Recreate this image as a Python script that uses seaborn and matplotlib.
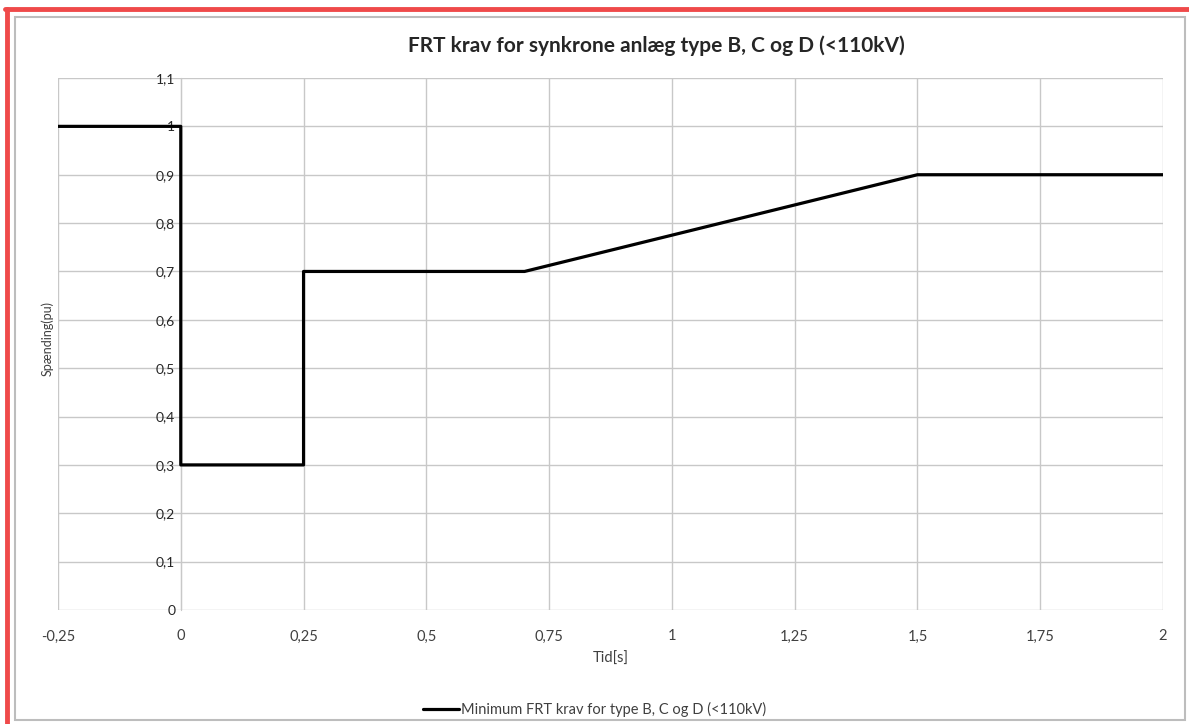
import matplotlib.pyplot as plt
import pandas as pd
import seaborn as sns
from matplotlib.lines import Line2D
from matplotlib.patches import Rectangle

# --- data ---
tid = [-0.25, 0, 0, 0.25, 0.25, 0.7, 1.5, 2]
spaending = [1.0, 1.0, 0.3, 0.3, 0.7, 0.7, 0.9, 0.9]
x_ticks = [-0.25, 0, 0.25, 0.5, 0.75, 1, 1.25, 1.5, 1.75, 2]
y_ticks = [0, 0.1, 0.2, 0.3, 0.4, 0.5, 0.6, 0.7, 0.8, 0.9, 1.0, 1.1]
serie = 'Minimum FRT krav for type B, C og D (<110kV)'

df = pd.DataFrame({'Tid': tid, 'U': spaending, 'Serie': serie})

sns.set_style('white')
plt.rcParams['font.family'] = ['Lato', 'DejaVu Sans']

fig = plt.figure(figsize=(11.89, 7.24), dpi=100)
fig.patch.set_facecolor('white')
ax = fig.add_axes([58 / 1189, 114 / 724, 1105 / 1189, 532 / 724])

sns.lineplot(data=df, x='Tid', y='U', hue='Serie', palette=['black'],
             estimator=None, sort=False, linewidth=2.3, ax=ax)
ax.lines[0].set_zorder(5)

ax.set_xlim(-0.25, 2)
ax.set_ylim(0, 1.1)
ax.set_xticks(x_ticks)
ax.set_yticks(y_ticks)

def komma(v):
    s = f'{v:g}'
    return s.replace('.', ',')

ax.set_xticklabels([komma(v) for v in x_ticks], fontsize=10.5, color='#404040')
ax.set_yticklabels([komma(v) for v in y_ticks], fontsize=10.5, color='#404040')
ax.grid(True, color='#c8c8c8', linewidth=1)
ax.set_axisbelow(True)

# y axis crosses at x = 0 like in Excel
for s in ['top', 'right', 'bottom']:
    ax.spines[s].set_visible(False)
ax.spines['left'].set_position(('data', 0))
ax.spines['left'].set_color('#c8c8c8')
ax.spines['left'].set_zorder(1)
ax.tick_params(axis='both', length=0)
ax.tick_params(axis='x', pad=14)
ax.tick_params(axis='y', pad=4)

ax.set_xlabel('Tid[s]', fontsize=10.5, color='#404040', labelpad=6)
ax.set_ylabel('')
fig.text(47 / 1189, 1 - 338 / 724, 'Spænding(pu)', rotation=90, fontsize=9,
         color='#404040', ha='center', va='center')

ax.set_title('FRT krav for synkrone anlæg type B, C og D (<110kV)',
             fontsize=15, fontweight='bold', color='#262626', pad=19,
             x=(656 - 58) / 1105)

ax.legend(loc='lower center', bbox_to_anchor=(0.5, -0.008),
          bbox_transform=fig.transFigure, frameon=False, fontsize=10.5,
          handlelength=2.5, handletextpad=0.1)
for t in ax.get_legend().get_texts():
    t.set_color('#404040')

# screenshot frame: red border top and left, grey inner border
fig.lines.append(Line2D([5 / 1189, 1], [1 - 9 / 724, 1 - 9 / 724], transform=fig.transFigure,
                        color='#ef4a4a', linewidth=3.5))
fig.lines.append(Line2D([7 / 1189, 7 / 1189], [0, 1 - 9 / 724], transform=fig.transFigure,
                        color='#ef4a4a', linewidth=3.5))
fig.patches.append(Rectangle((15 / 1189, 4 / 724), 1170 / 1189, 703 / 724,
                             transform=fig.transFigure, fill=False,
                             edgecolor='#bdbdbd', linewidth=1.5))

fig.savefig('out.png', dpi=100, facecolor='white')
